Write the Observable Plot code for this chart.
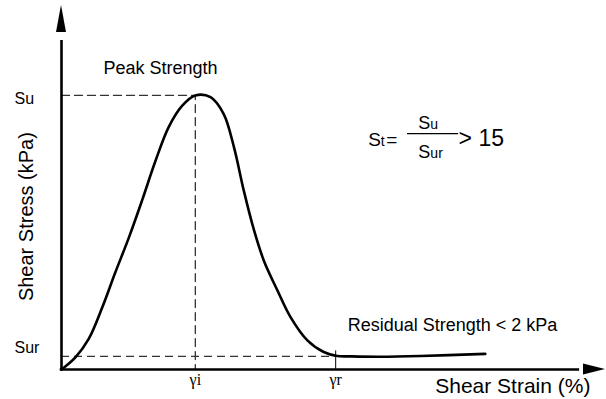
<!DOCTYPE html>
<html><head><meta charset="utf-8">
<script src="https://cdn.jsdelivr.net/npm/d3@7"></script>
<script src="https://cdn.jsdelivr.net/npm/@observablehq/plot@0.6"></script>
<style>body{margin:0;background:#fff} svg{display:block}</style>
</head><body><div id="chart"></div>
<script>
// Stress–strain curve (arbitrary units, 0–100 on each axis)
const strain = [0, 2.6, 5.0, 7.5, 9.9, 12.4, 14.8, 17.3, 19.7, 22.2, 24.6, 27.4, 29.8, 31.7, 33.5, 35.4, 37.2, 39.7, 42.1, 45.2, 48.2, 50.7, 53.1, 58.6, 66.0, 77.9];
const stress = [0, 3.4, 8.4, 17.1, 26.7, 36.3, 46.4, 57.4, 66.6, 72.5, 75.3, 74.8, 70.2, 61.1, 49.2, 38.2, 29.9, 21.7, 14.4, 8.0, 4.8, 3.7, 3.6, 3.5, 3.7, 4.3];
// key values
const gammaI = 24.6, gammaR = 50.4;   // strain at peak, strain at residual
const su = 75.3, sur = 3.6;           // peak and residual strength
const xTickLabels = ["γi", "γr"];
const yTickLabels = ["Su", "Sur"];
const xLabel = "Shear Strain (%)";
const yLabel = "Shear Stress (kPa)";
const peakLabel = "Peak Strength";
const residualLabel = "Residual Strength < 2 kPa";
const ratioLimit = "> 15";

const points = strain.map((x, i) => ({x, y: stress[i]}));
const sans = "Arial, 'Liberation Sans', sans-serif";
const serif = "'Times New Roman', 'Liberation Serif', serif";
const dash = {stroke: "#333", strokeWidth: 1.3, strokeDasharray: "8,5"};

const chart = Plot.plot({
  width: 606, height: 399,
  marginLeft: 61, marginRight: 1, marginTop: 5, marginBottom: 30,
  x: {domain: [0, 100], axis: null},
  y: {domain: [0, 100], axis: null},
  style: {fontFamily: sans, background: "#fff", color: "#000"},
  marks: [
    // dashed guides
    Plot.line([{x: 0, y: su}, {x: gammaI, y: su}, {x: gammaI, y: 0}], {x: "x", y: "y", ...dash}),
    Plot.ruleY([sur], {x1: 0, x2: gammaR, ...dash}),
    Plot.ruleX([gammaR], {y1: 0, y2: sur + 1.5, stroke: "#000", strokeWidth: 1}),
    // axes
    Plot.ruleX([0], {y1: 0, y2: 90, stroke: "#000", strokeWidth: 2.6, strokeLinecap: "square"}),
    Plot.ruleY([0], {x1: 0, x2: 95, stroke: "#000", strokeWidth: 2.6, strokeLinecap: "square"}),
    // curve
    Plot.line(points, {x: "x", y: "y", curve: "catmull-rom", stroke: "#000", strokeWidth: 2.6}),
    // tick labels
    Plot.text([gammaI, gammaR], {x: d => d, y: 0, text: (d, i) => xTickLabels[i], dy: 15, lineAnchor: "bottom",
      fontFamily: serif, fontSize: 16}),
    Plot.text([su], {x: 0, y: d => d, text: [yTickLabels[0]], dx: -47, dy: 9, textAnchor: "start", lineAnchor: "bottom", fontSize: 16}),
    Plot.text([sur], {x: 0, y: d => d, text: [yTickLabels[1]], dx: -47, dy: -3, textAnchor: "start", lineAnchor: "bottom", fontSize: 16}),
    // axis titles
    Plot.text([xLabel], {x: 68.7, y: 0, text: d => d, dy: 23.5, textAnchor: "start", lineAnchor: "bottom", fontSize: 21}),
    Plot.text([yLabel], {x: 0, y: 42, text: d => d, dx: -34.5, rotate: -90, lineAnchor: "middle", fontSize: 20}),
    // annotations
    Plot.text([peakLabel], {x: 7.7, y: 81.3, text: d => d, textAnchor: "start", lineAnchor: "bottom", fontSize: 18}),
    Plot.text([residualLabel], {x: 52.6, y: 10.7, text: d => d, textAnchor: "start", lineAnchor: "bottom", fontSize: 18}),
    // sensitivity formula  St = Su / Sur > 15
    Plot.text(["S"], {x: 56.4, y: 61.5, text: d => d, textAnchor: "start", lineAnchor: "bottom", fontSize: 19}),
    Plot.text(["t"], {x: 56.4, y: 61.5, text: d => d, dx: 12.5, textAnchor: "start", lineAnchor: "bottom", fontSize: 14}),
    Plot.text(["="], {x: 56.4, y: 61.5, text: d => d, dx: 18, textAnchor: "start", lineAnchor: "bottom", fontSize: 19}),
    Plot.ruleY([64.8], {x1: 63.6, x2: 73.0, stroke: "#000", strokeWidth: 1.3}),
    Plot.text(["S"], {x: 65.6, y: 66.2, text: d => d, textAnchor: "start", lineAnchor: "bottom", fontSize: 18}),
    Plot.text(["u"], {x: 65.6, y: 66.2, text: d => d, dx: 12, textAnchor: "start", lineAnchor: "bottom", fontSize: 14}),
    Plot.text(["S"], {x: 65.6, y: 58.2, text: d => d, textAnchor: "start", lineAnchor: "bottom", fontSize: 18}),
    Plot.text(["ur"], {x: 65.6, y: 58.2, text: d => d, dx: 12, textAnchor: "start", lineAnchor: "bottom", fontSize: 14}),
    Plot.text([ratioLimit], {x: 73.0, y: 61.5, text: d => d, textAnchor: "start", lineAnchor: "bottom", fontSize: 23})
  ]
});

// filled arrowheads at the axis ends, placed through the plot's scales
const sx = chart.scale("x"), sy = chart.scale("y");
const x0 = sx.apply(0), y0 = sy.apply(0), xTip = sx.apply(100), yTip = sy.apply(100);
const g = d3.select(chart).append("g").attr("fill", "#000");
g.append("path").attr("d", `M${x0},${yTip}L${x0 - 5},${yTip + 27}L${x0 + 5},${yTip + 27}Z`);
g.append("path").attr("d", `M${xTip},${y0}L${xTip - 22},${y0 - 5.5}L${xTip - 22},${y0 + 5.5}Z`);

document.getElementById("chart").append(chart);
</script>
</body></html>
